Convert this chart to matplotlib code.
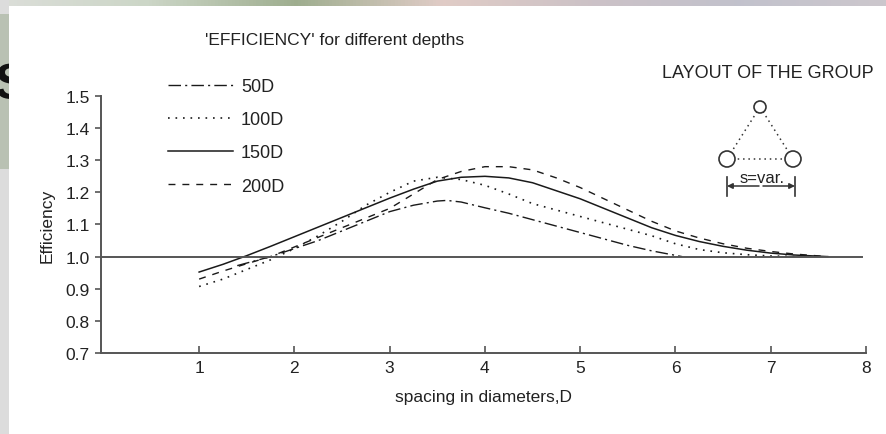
import numpy as np
import matplotlib
matplotlib.use("Agg")
import matplotlib.pyplot as plt
from matplotlib.patches import Circle, Rectangle

plt.rcParams['font.family'] = ['Liberation Sans', 'DejaVu Sans']

# -- data --------------------------------------------------------------------
x_50 = [1.4, 1.75, 2.0, 2.25, 2.5, 2.75, 3.0, 3.25, 3.5, 3.6, 3.75, 4.0, 4.25,
        4.5, 4.75, 5.0, 5.25, 5.5, 5.75, 6.07]
y_50 = [0.972, 1.0, 1.025, 1.05, 1.08, 1.11, 1.14, 1.16, 1.173, 1.175, 1.17,
        1.152, 1.135, 1.115, 1.095, 1.075, 1.055, 1.035, 1.018, 1.0]

x_100 = [1.0, 1.25, 1.5, 1.75, 2.0, 2.25, 2.5, 2.75, 3.0, 3.25, 3.5, 3.75, 4.0,
         4.25, 4.5, 4.75, 5.0, 5.25, 5.5, 5.75, 6.0, 6.25, 6.5, 6.75, 7.0, 7.3]
y_100 = [0.907, 0.93, 0.96, 0.99, 1.025, 1.065, 1.11, 1.16, 1.2, 1.235, 1.247,
         1.24, 1.222, 1.195, 1.165, 1.145, 1.125, 1.105, 1.085, 1.065, 1.04,
         1.022, 1.012, 1.006, 1.002, 1.0]

x_150 = [1.0, 1.25, 1.5, 1.75, 2.0, 2.25, 2.5, 2.75, 3.0, 3.25, 3.5, 3.75, 4.0,
         4.25, 4.5, 4.75, 5.0, 5.25, 5.5, 5.75, 6.0, 6.25, 6.5, 6.75, 7.0, 7.25, 7.6]
y_150 = [0.952, 0.976, 1.003, 1.032, 1.062, 1.092, 1.122, 1.152, 1.182, 1.21,
         1.235, 1.247, 1.25, 1.245, 1.23, 1.205, 1.18, 1.15, 1.12, 1.09, 1.066,
         1.047, 1.032, 1.02, 1.011, 1.005, 1.0]

x_200 = [1.0, 1.25, 1.5, 1.75, 2.0, 2.25, 2.5, 2.75, 3.0, 3.25, 3.5, 3.75, 4.0,
         4.25, 4.5, 4.75, 5.0, 5.25, 5.5, 5.75, 6.0, 6.25, 6.5, 6.75, 7.0, 7.25, 7.6]
y_200 = [0.93, 0.955, 0.978, 1.0, 1.03, 1.06, 1.09, 1.12, 1.15, 1.195, 1.24,
         1.265, 1.28, 1.28, 1.27, 1.245, 1.215, 1.18, 1.145, 1.11, 1.08, 1.058,
         1.04, 1.026, 1.016, 1.008, 1.0]

x_ticks = [1, 2, 3, 4, 5, 6, 7, 8]
y_ticks = [0.7, 0.8, 0.9, 1.0, 1.1, 1.2, 1.3, 1.4, 1.5]

W, H = 886, 435
fig = plt.figure(figsize=(W / 100, H / 100), dpi=100)
fig.patch.set_facecolor('white')

# background overlay in pixel coords (slide behind the picture)
bg = fig.add_axes([0, 0, 1, 1], zorder=-5)
bg.set_xlim(0, W); bg.set_ylim(H, 0); bg.axis('off')
grad = np.linspace(0, 1, 256)
top_cols = np.array([[0.86, 0.87, 0.85], [0.80, 0.84, 0.78], [0.62, 0.68, 0.56],
                     [0.88, 0.80, 0.78], [0.80, 0.76, 0.78], [0.76, 0.76, 0.80],
                     [0.80, 0.78, 0.80]])
pos = np.linspace(0, 1, len(top_cols))
strip = np.stack([np.interp(grad, pos, top_cols[:, c]) for c in range(3)], axis=-1)
bg.imshow(strip[None, :, :], extent=(0, W, 7, 0), aspect='auto', zorder=0)
bg.add_patch(Rectangle((0, 0), 9, H, color='#dcdcdc', lw=0, zorder=0))
bg.add_patch(Rectangle((0, 15), 9, 155, color='#b9c1b3', lw=0, zorder=0.2))
bg.text(-5, 86, 'S', fontsize=36, fontweight='bold', color='#111111',
        ha='left', va='center', zorder=0.5)
bg.add_patch(Rectangle((9, 7), W, H, color='white', lw=0, zorder=1))

# main axes
ax = fig.add_axes([101 / W, 1 - 354 / H, (866 - 101) / W, (354 - 97) / H])
ax.set_xlim(-0.03, 8.0)
ax.set_ylim(0.7, 1.5)
ax.set_facecolor('none')

lc = '#1a1a1a'
ax.plot(x_50, y_50, color=lc, lw=1.0, dashes=(9, 3, 1.5, 3), label='50D')
ax.plot(x_100, y_100, color=lc, lw=1.2, ls=(0, (1, 3.5)), label='100D')
ax.plot(x_150, y_150, color=lc, lw=1.1, ls='-', label='150D')
ax.plot(x_200, y_200, color=lc, lw=1.0, dashes=(5, 5), label='200D')
ax.axhline(1.0, xmin=0, xmax=(7.96 + 0.03) / 8.03, color='#555555', lw=1.4)

for s in ['top', 'right']:
    ax.spines[s].set_visible(False)
for s in ['left', 'bottom']:
    ax.spines[s].set_color('#555555')
    ax.spines[s].set_linewidth(1.4)

ax.set_xticks(x_ticks)
ax.set_yticks(y_ticks)
ax.set_yticklabels([f'{v:.1f}' for v in y_ticks])
ax.tick_params(axis='x', direction='in', length=5, width=1.2, color='#555555',
               labelsize=12.5, pad=5, labelcolor='#222222')
ax.tick_params(axis='y', direction='out', length=4, width=1.2, color='#555555',
               labelsize=12.5, pad=4, labelcolor='#222222')
ax.set_xlabel('spacing in diameters,D', fontsize=12.5, color='#222222', labelpad=10)
ax.set_ylabel('Efficiency', fontsize=12.5, color='#222222', labelpad=8)

fig.text(335 / W, 1 - 40 / H, "'EFFICIENCY' for different depths", fontsize=12.5,
         ha='center', va='center', color='#222222')
fig.text(768 / W, 1 - 73 / H, 'LAYOUT OF THE GROUP', fontsize=13,
         ha='center', va='center', color='#222222')

ax.legend(loc='upper left', bbox_to_anchor=(168 / W, 1 - 79 / H),
          bbox_transform=fig.transFigure, frameon=False, fontsize=13,
          handlelength=3.6, handletextpad=0.45, labelspacing=0.9,
          borderpad=0, borderaxespad=0, labelcolor='#222222')

# group layout sketch (pixel coords)
r_top, r_bot = 6, 8
pts = {'t': (760, 108), 'l': (727, 160), 'r': (793, 160)}
for a, b in [('t', 'l'), ('t', 'r'), ('l', 'r')]:
    bg.plot([pts[a][0], pts[b][0]], [pts[a][1], pts[b][1]], color='#333333',
            lw=1.1, ls=(0, (1, 2.5)), zorder=2)
for k, (cx, cy) in pts.items():
    bg.add_patch(Circle((cx, cy), r_top if k == 't' else r_bot, fc='white',
                        ec='#333333', lw=1.2, zorder=3))
bg.plot([727, 727], [178, 197], color='#333333', lw=1.2, zorder=2)
bg.plot([795, 795], [178, 197], color='#333333', lw=1.2, zorder=2)
bg.annotate('', xy=(727, 187), xytext=(759, 187), zorder=2,
            arrowprops=dict(arrowstyle='-|>', color='#333333', lw=1.1,
                            mutation_scale=8, shrinkA=0, shrinkB=0))
bg.annotate('', xy=(795, 187), xytext=(763, 187), zorder=2,
            arrowprops=dict(arrowstyle='-|>', color='#333333', lw=1.1,
                            mutation_scale=8, shrinkA=0, shrinkB=0))
bg.text(762, 179, 's=var.', fontsize=12, ha='center', va='center',
        color='#222222', zorder=4)

fig.savefig('out.png', dpi=100)
